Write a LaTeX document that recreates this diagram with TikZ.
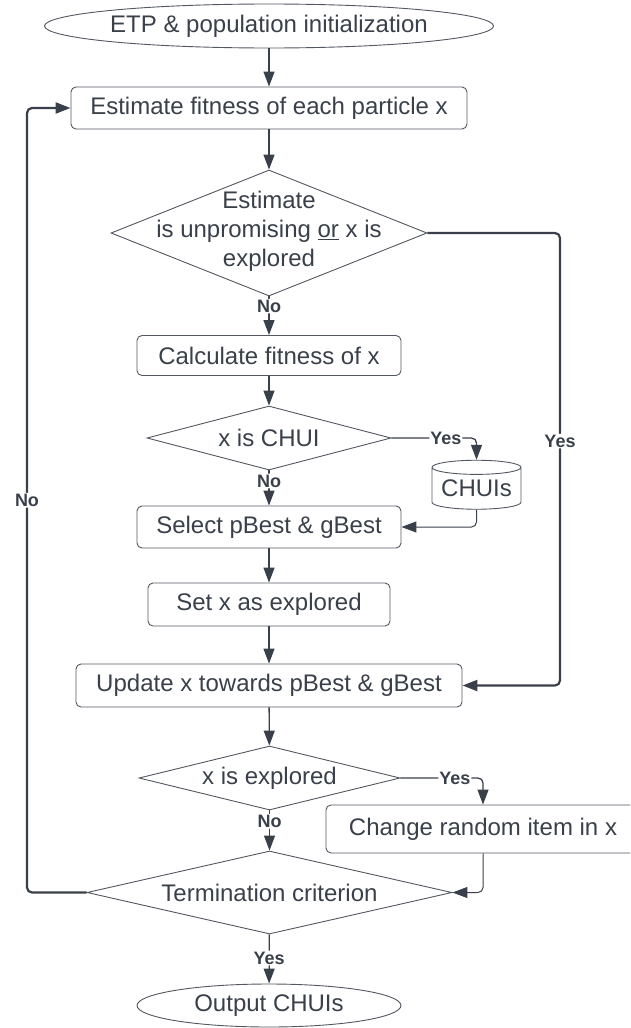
\documentclass[tikz,border=0pt]{standalone}
\usepackage{fontspec}
\setmainfont{Liberation Sans}
\usetikzlibrary{shapes.geometric,arrows.meta}
\definecolor{ink}{RGB}{58,64,74}
\definecolor{edge}{RGB}{82,87,96}
\tikzset{
  base/.style={draw=edge, line width=0.9pt, text=ink, font=\fontsize{24}{29}\selectfont, inner sep=0pt},
  terminal/.style={base, ellipse},
  process/.style={base, rectangle, rounded corners=5pt},
  decision/.style={base, diamond},
  store/.style={base, cylinder, shape border rotate=90, aspect=0.2},
  caption/.style={text=ink, font=\fontsize{24}{29}\selectfont, align=center, inner sep=0pt},
  flow/.style={draw=ink, line width=1.3pt, -{Triangle[length=15pt,width=11pt]}, rounded corners=5pt},
  back/.style={flow, line width=2.2pt},
  answer/.style={fill=white, text=ink, font=\fontsize{18}{20}\selectfont\bfseries, inner sep=1pt}
}

\begin{document}
\begin{tikzpicture}[x=1pt, y=-1pt]
  \path[use as bounding box, clip] (0,0) rectangle (630,1028);

  \node[terminal, minimum width=364pt, minimum height=44pt] (start) at (269,26) {ETP \& population initialization};
  \node[process, minimum width=396pt, minimum height=42pt] (est) at (269,108) {Estimate fitness of each particle x};
  \node[decision, minimum width=316pt, minimum height=126pt] (chk) at (269,233) {};
  \node[caption] (chktxt) at (269,231) {Estimate\\is unpromising \underline{or} x is\\explored};
  \node[process, minimum width=264pt, minimum height=40pt] (calc) at (269,355.5) {Calculate fitness of x};
  \node[decision, minimum width=244pt, minimum height=64pt] (chui) at (269,438) {};
  \node[caption] (chuitxt) at (269,438) {x is CHUI};
  \node[store, minimum width=89pt, minimum height=49pt] (db) at (476.5,488.5) {CHUIs};
  \node[process, minimum width=264pt, minimum height=42pt] (sel) at (269,527) {Select pBest \& gBest};
  \node[process, minimum width=242pt, minimum height=43pt] (mark) at (269,604.5) {Set x as explored};
  \node[process, minimum width=386pt, minimum height=43pt] (upd) at (269,685.5) {Update x towards pBest \& gBest};
  \node[decision, minimum width=261pt, minimum height=64pt] (seen) at (269.5,778) {};
  \node[caption] (seentxt) at (269.5,778) {x is explored};
  \node[process, minimum width=314pt, minimum height=48pt] (chg) at (483,829) {Change random item in x};
  \node[decision, minimum width=365pt, minimum height=83pt] (term) at (269.5,892.5) {};
  \node[caption] (termtxt) at (269.5,892.5) {Termination criterion};
  \node[terminal, minimum width=264pt, minimum height=43pt] (out) at (269,1005.5) {Output CHUIs};

  \coordinate (rgt) at (560,685.5);
  \coordinate (lft) at (27,108);

  \draw[flow] (start) -- (est);
  \draw[flow] (est) -- (chk);
  \draw[flow] (chk) -- node[answer, pos=0.25] {No} (calc);
  \draw[flow] (calc) -- (chui);
  \draw[flow] (chui) -- node[answer, pos=0.3] {No} (sel);
  \draw[flow] (chui.east) -| node[answer, pos=0.32] {Yes} (db.north);
  \draw[flow, line width=1pt] (db.south) |- (sel.east);
  \draw[flow] (sel) -- (mark);
  \draw[flow] (mark) -- (upd);
  \draw[back] (chk.east) -| node[answer, pos=0.73] {Yes} (rgt) -- (upd.east);
  \draw[flow] (upd) -- (seen);
  \draw[flow] (seen) -- node[answer, pos=0.27] {No} (term);
  \draw[flow] (seen.east) -| node[answer, pos=0.33] {Yes} (chg.north);
  \draw[flow, line width=1pt] (chg.south) |- (term.east);
  \draw[back] (term.west) -| node[answer, pos=0.75] {No} (lft) -- (est.west);
  \draw[flow] (term) -- node[answer, pos=0.48] {Yes} (out);
\end{tikzpicture}
\end{document}
